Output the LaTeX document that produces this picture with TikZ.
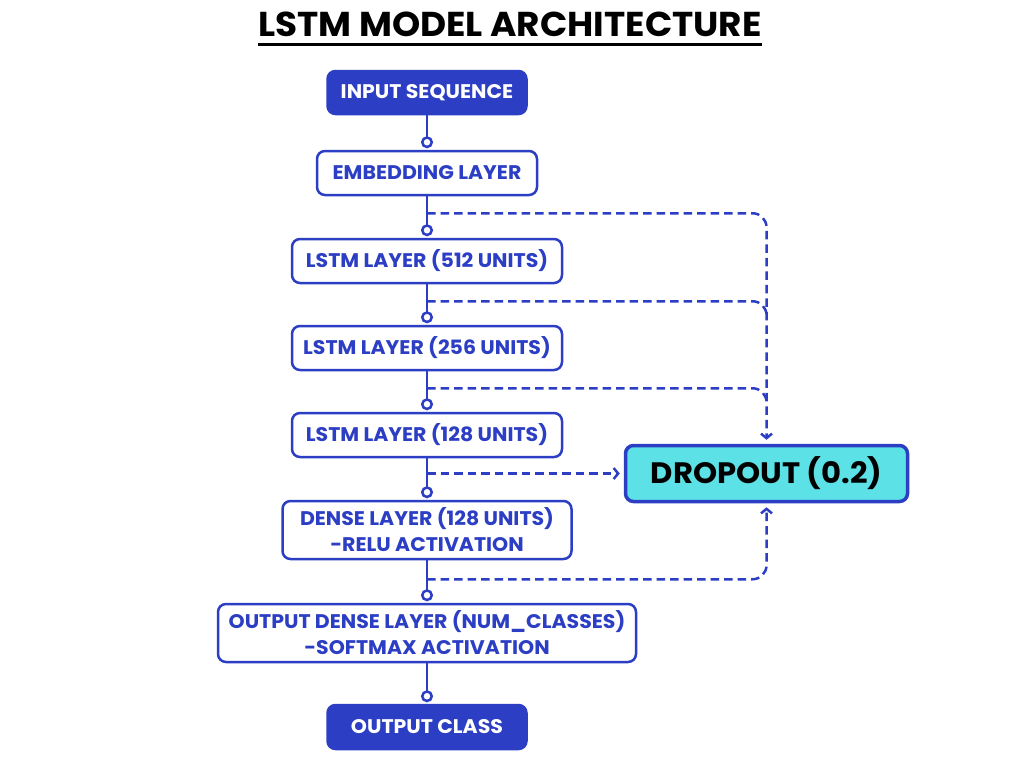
\documentclass[tikz,border=0pt]{standalone}
\usepackage{fontspec}
\setmainfont{Poppins}[FakeStretch=1.04]
\usetikzlibrary{arrows.meta}
\definecolor{archblue}{RGB}{43,62,196}
\definecolor{dropcyan}{RGB}{92,225,230}
\tikzset{
  layer/.style={draw=archblue, line width=2.5pt, rounded corners=8pt, fill=white, text=archblue,
    font=\bfseries\fontsize{19.7}{26}\selectfont, align=center, inner sep=0pt},
  endpoint/.style={layer, fill=archblue, text=white},
  link/.style={draw=archblue, line width=2.5pt, -{Circle[open,length=12pt,width=12pt]}, shorten >=1.5pt},
  skip/.style={draw=archblue, line width=2.5pt, dash pattern=on 8.5pt off 5pt, rounded corners=14pt},
  skiparrow/.style={skip, -{Straight Barb[length=4.5pt,width=11pt]}, shorten >=4pt}
}
\begin{document}
\begin{tikzpicture}[x=1pt,y=-1pt]
\useasboundingbox (0,0) rectangle (1024,768);
\node[font=\bfseries\fontsize{34.5}{40}\selectfont, anchor=base, inner sep=0pt] (title) at (510,37) {LSTM MODEL ARCHITECTURE};
\draw[line width=3pt] ([yshift=-8pt]title.base west) -- ([yshift=-8pt]title.base east);

% main stack
\node[endpoint, minimum width=199pt, minimum height=43pt] (input) at (427,92.5) {INPUT SEQUENCE};
\node[layer, minimum width=220pt, minimum height=44pt] (embed) at (427,173) {EMBEDDING LAYER};
\node[layer, minimum width=270pt, minimum height=44pt] (lstmA) at (427,261) {LSTM LAYER (512 UNITS)};
\node[layer, minimum width=270pt, minimum height=44pt] (lstmB) at (427,348) {LSTM LAYER (256 UNITS)};
\node[layer, minimum width=270pt, minimum height=44pt] (lstmC) at (427,435) {LSTM LAYER (128 UNITS)};
\node[layer, minimum width=289pt, minimum height=58pt] (dense) at (427,530) {DENSE LAYER (128 UNITS)\\-RELU ACTIVATION};
\node[layer, minimum width=418pt, minimum height=58pt] (outdense) at (427,633) {OUTPUT DENSE LAYER (NUM\_CLASSES)\\-SOFTMAX ACTIVATION};
\node[endpoint, minimum width=199pt, minimum height=44pt] (outclass) at (427,727) {OUTPUT CLASS};

% dropout
\node[draw=archblue, line width=3.5pt, fill=dropcyan, rounded corners=8pt, inner sep=0pt,
  minimum width=282pt, minimum height=56pt, font=\bfseries\fontsize{29.5}{32}\selectfont] (drop) at (766.5,473.5) {DROPOUT (0.2)};

\foreach \a/\b in {input/embed, embed/lstmA, lstmA/lstmB, lstmB/lstmC, lstmC/dense, dense/outdense, outdense/outclass}
  \draw[link] (\a) -- (\b);

% skip lines into dropout
\path (embed.south) ++(0,17) coordinate (s1);
\path (lstmA.south) ++(0,17) coordinate (s2);
\path (lstmB.south) ++(0,17) coordinate (s3);
\coordinate (s4) at (lstmC.south |- drop.west);
\path (dense.south) ++(0,19) coordinate (s5);
\path (s2 -| drop.north) ++(0,16) coordinate (m2);
\path (s3 -| drop.north) ++(0,16) coordinate (m3);
\draw[skiparrow] (s1) -| (drop.north);
\draw[skip] (s2) -| (m2);
\draw[skip] (s3) -| (m3);
\draw[skiparrow] (s4) -- (drop.west);
\draw[skiparrow] (s5) -| (drop.south);
\end{tikzpicture}
\end{document}
